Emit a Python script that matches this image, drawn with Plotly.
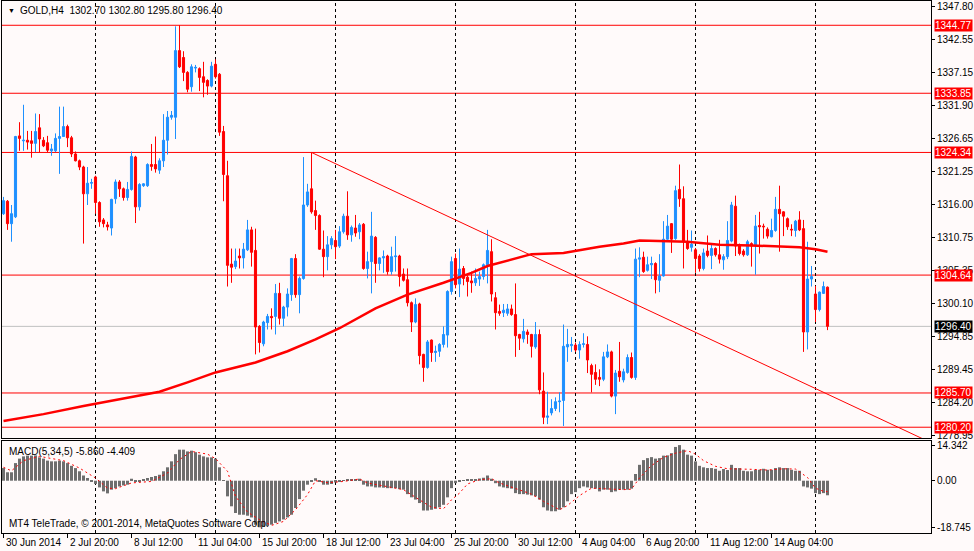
import plotly.graph_objects as go

# GOLD H4, 30 Jun - 15 Aug 2014
opens = [1314.5, 1316.5, 1312.9, 1314.0, 1327.0, 1326.2, 1326.3, 1326.2, 1325.8, 1328.3,
         1326.3, 1325.9, 1324.6, 1324.6, 1326.6, 1326.9, 1328.5, 1326.7, 1324.1, 1323.0,
         1322.0, 1317.7, 1319.4, 1320.4, 1316.3, 1313.5, 1312.7, 1312.2, 1316.9, 1319.6,
         1318.5, 1317.1, 1318.4, 1323.6, 1315.6, 1319.0, 1319.0, 1322.4, 1322.4, 1321.5,
         1323.0, 1326.3, 1330.0, 1330.0, 1340.7, 1339.6, 1337.2, 1334.9, 1337.9, 1337.8,
         1336.5, 1335.9, 1335.0, 1338.5, 1336.9, 1327.7, 1320.6, 1306.4, 1306.0, 1307.7,
         1307.4, 1308.7, 1311.9, 1308.6, 1296.4, 1293.6, 1297.0, 1298.0, 1298.0, 1301.7,
         1297.7, 1299.5, 1301.5, 1307.3, 1301.5, 1304.1, 1315.9, 1318.5, 1315.0, 1314.2,
         1308.8, 1307.6, 1309.5, 1310.2, 1309.3, 1311.6, 1314.1, 1311.1, 1312.2, 1311.6,
         1312.8, 1305.7, 1306.8, 1310.7, 1306.5, 1307.4, 1307.7, 1305.2, 1307.6, 1307.7,
         1304.8, 1303.9, 1300.2, 1297.1, 1300.0, 1291.9, 1289.8, 1294.2, 1292.2, 1292.4,
         1293.5, 1295.0, 1302.0, 1307.3, 1303.2, 1305.7, 1304.3, 1303.7, 1303.4, 1304.0,
         1304.4, 1306.3, 1308.4, 1301.0, 1298.8, 1298.6, 1298.5, 1299.2, 1298.3, 1295.1,
         1294.4, 1295.5, 1295.1, 1293.1, 1295.1, 1286.0, 1281.8, 1282.5, 1283.2, 1284.3,
         1284.5, 1293.1, 1293.3, 1293.4, 1292.6, 1293.5, 1293.5, 1290.1, 1289.0, 1288.2,
         1287.9, 1291.5, 1292.3, 1285.2, 1289.2, 1287.8, 1289.0, 1291.4, 1288.2, 1307.2,
         1307.5, 1305.4, 1306.3, 1306.5, 1303.8, 1304.5, 1310.4, 1312.9, 1310.5, 1318.4,
         1316.9, 1310.0, 1309.1, 1308.7, 1307.7, 1305.7, 1308.5, 1307.8, 1308.9, 1307.9,
         1307.1, 1307.6, 1310.1, 1315.7, 1309.5, 1308.5, 1307.9, 1309.7, 1309.3, 1312.6,
         1312.5, 1312.0, 1310.8, 1311.8, 1315.2, 1314.8, 1313.7, 1312.0, 1311.8, 1313.5,
         1312.1, 1295.5, 1304.0, 1301.6, 1299.1, 1301.7, 1302.7]
highs = [1317.2, 1316.7, 1315.9, 1327.0, 1329.2, 1332.0, 1327.8, 1327.8, 1330.6, 1330.5,
         1326.8, 1327.0, 1325.7, 1327.4, 1331.7, 1331.7, 1328.8, 1327.0, 1324.5, 1323.2,
         1322.2, 1322.0, 1320.1, 1320.6, 1316.5, 1313.8, 1313.2, 1316.9, 1320.0, 1319.9,
         1318.7, 1319.6, 1324.5, 1323.8, 1319.4, 1319.4, 1322.6, 1325.7, 1326.9, 1323.4,
         1330.5, 1331.0, 1331.0, 1344.6, 1344.8, 1340.6, 1337.4, 1338.5, 1338.4, 1338.0,
         1338.9, 1336.1, 1338.9, 1339.3, 1337.1, 1328.6, 1323.0, 1308.9, 1308.9, 1308.9,
         1309.8, 1313.5, 1312.4, 1312.1, 1296.6, 1297.3, 1298.4, 1299.3, 1303.2, 1303.4,
         1299.7, 1302.5, 1307.4, 1308.0, 1304.4, 1323.6, 1319.3, 1324.3, 1316.6, 1314.4,
         1311.8, 1310.9, 1310.9, 1311.9, 1312.5, 1314.5, 1318.1, 1312.6, 1314.3, 1313.0,
         1313.0, 1308.4, 1314.8, 1310.9, 1307.5, 1308.6, 1307.9, 1309.2, 1310.9, 1307.9,
         1305.7, 1305.7, 1300.4, 1300.9, 1300.2, 1292.0, 1294.2, 1294.3, 1293.3, 1293.7,
         1296.4, 1302.2, 1307.6, 1308.1, 1308.9, 1306.1, 1304.6, 1305.2, 1305.7, 1305.2,
         1306.5, 1311.9, 1310.4, 1301.9, 1299.9, 1300.0, 1300.0, 1299.9, 1303.3, 1295.2,
         1297.6, 1295.9, 1295.2, 1297.1, 1295.9, 1289.0, 1285.9, 1284.7, 1285.0, 1285.8,
         1296.7, 1296.0, 1294.7, 1293.8, 1294.0, 1295.3, 1294.8, 1290.4, 1290.3, 1289.5,
         1292.3, 1293.5, 1292.5, 1289.4, 1293.9, 1289.6, 1291.9, 1292.2, 1308.9, 1309.1,
         1308.4, 1307.6, 1307.6, 1306.7, 1308.0, 1313.3, 1314.3, 1313.0, 1319.0, 1322.4,
         1318.9, 1311.9, 1311.8, 1309.0, 1308.0, 1308.9, 1311.0, 1309.5, 1309.1, 1310.3,
         1308.0, 1313.3, 1316.4, 1317.4, 1309.7, 1308.8, 1310.3, 1309.9, 1314.3, 1314.8,
         1312.9, 1312.3, 1313.7, 1317.2, 1319.0, 1314.9, 1313.9, 1312.8, 1313.5, 1314.9,
         1313.5, 1310.0, 1306.1, 1302.9, 1302.0, 1303.6, 1302.8]
lows = [1314.3, 1311.9, 1310.0, 1313.8, 1324.6, 1324.6, 1324.8, 1323.5, 1324.4, 1324.4,
        1325.2, 1324.4, 1323.8, 1324.4, 1320.9, 1326.9, 1325.2, 1323.6, 1322.9, 1321.5,
        1309.7, 1315.9, 1318.5, 1314.5, 1312.4, 1312.3, 1311.8, 1311.0, 1316.1, 1317.2,
        1316.6, 1316.6, 1318.2, 1313.0, 1315.0, 1318.8, 1318.8, 1321.4, 1321.1, 1320.9,
        1322.0, 1324.0, 1329.6, 1326.5, 1337.9, 1335.8, 1334.0, 1334.1, 1337.2, 1334.2,
        1333.2, 1333.6, 1334.8, 1336.2, 1327.0, 1316.5, 1302.8, 1303.4, 1305.6, 1305.7,
        1305.7, 1308.5, 1306.0, 1291.9, 1292.2, 1293.2, 1295.9, 1295.9, 1295.1, 1296.7,
        1296.4, 1298.0, 1300.5, 1301.0, 1298.5, 1303.9, 1315.6, 1314.5, 1311.9, 1308.7,
        1304.3, 1305.4, 1308.8, 1307.2, 1309.0, 1311.3, 1310.3, 1310.0, 1310.8, 1310.4,
        1305.5, 1304.1, 1301.7, 1303.4, 1305.4, 1305.0, 1304.7, 1304.7, 1305.2, 1302.8,
        1303.6, 1299.6, 1295.5, 1296.9, 1290.3, 1287.5, 1289.6, 1290.7, 1290.7, 1291.5,
        1293.0, 1293.0, 1301.5, 1302.5, 1301.1, 1303.0, 1301.2, 1301.8, 1302.9, 1302.9,
        1303.9, 1303.3, 1300.4, 1295.9, 1298.1, 1297.9, 1298.1, 1298.1, 1291.5, 1292.6,
        1293.8, 1293.6, 1291.4, 1292.8, 1285.5, 1280.7, 1280.7, 1282.1, 1282.8, 1282.6,
        1280.4, 1290.7, 1292.3, 1292.3, 1291.2, 1293.0, 1288.9, 1285.8, 1287.0, 1286.8,
        1287.6, 1291.3, 1285.0, 1282.3, 1287.5, 1287.4, 1288.8, 1288.0, 1287.8, 1304.3,
        1305.0, 1305.2, 1304.0, 1301.7, 1301.9, 1304.4, 1310.3, 1308.2, 1310.3, 1315.6,
        1305.7, 1308.7, 1308.4, 1305.0, 1305.2, 1305.4, 1307.5, 1305.6, 1307.6, 1306.5,
        1305.5, 1307.2, 1309.9, 1307.7, 1307.8, 1307.6, 1307.7, 1306.0, 1304.7, 1308.1,
        1310.5, 1310.5, 1310.7, 1311.6, 1308.4, 1310.9, 1311.9, 1310.9, 1310.8, 1311.7,
        1292.3, 1292.7, 1302.8, 1297.1, 1298.8, 1301.6, 1295.8]
closes = [1316.6, 1312.9, 1314.5, 1326.9, 1326.6, 1326.3, 1326.0, 1325.8, 1327.7, 1326.5,
          1325.4, 1324.7, 1324.9, 1326.6, 1326.9, 1328.5, 1326.7, 1324.1, 1323.0, 1322.0,
          1317.7, 1319.4, 1319.5, 1316.3, 1313.2, 1312.9, 1312.4, 1316.8, 1319.6, 1318.5,
          1317.1, 1318.4, 1323.7, 1315.6, 1319.2, 1319.3, 1322.4, 1322.1, 1321.7, 1323.0,
          1326.3, 1330.0, 1330.3, 1340.7, 1338.1, 1337.2, 1334.5, 1338.1, 1338.0, 1336.4,
          1335.6, 1335.0, 1338.2, 1336.5, 1327.6, 1320.8, 1306.2, 1305.9, 1306.9, 1307.4,
          1308.8, 1311.9, 1308.3, 1296.3, 1293.8, 1297.1, 1298.0, 1297.8, 1301.7, 1297.7,
          1299.5, 1301.6, 1307.3, 1301.5, 1304.1, 1315.9, 1318.0, 1314.8, 1314.2, 1308.8,
          1307.6, 1309.5, 1310.5, 1309.2, 1311.6, 1314.1, 1311.1, 1312.3, 1311.4, 1312.7,
          1305.7, 1306.8, 1310.9, 1306.5, 1307.4, 1307.6, 1305.2, 1307.6, 1307.7, 1304.4,
          1303.8, 1300.2, 1297.1, 1299.9, 1291.7, 1289.8, 1293.9, 1292.2, 1292.4, 1293.5,
          1295.1, 1302.0, 1306.8, 1303.1, 1305.6, 1304.1, 1303.6, 1303.4, 1304.1, 1304.4,
          1306.3, 1308.6, 1301.6, 1298.6, 1298.5, 1299.0, 1299.2, 1298.3, 1294.9, 1294.5,
          1295.6, 1295.1, 1293.2, 1295.1, 1286.2, 1281.8, 1282.0, 1283.2, 1284.3, 1284.4,
          1293.2, 1293.5, 1293.5, 1292.6, 1293.5, 1293.6, 1291.0, 1288.7, 1287.9, 1287.9,
          1291.5, 1292.3, 1285.2, 1288.9, 1288.3, 1289.1, 1291.4, 1288.2, 1307.2, 1307.4,
          1305.2, 1306.3, 1306.5, 1303.9, 1304.5, 1310.4, 1312.5, 1310.4, 1318.2, 1316.9,
          1310.0, 1308.9, 1309.6, 1307.3, 1305.7, 1308.2, 1307.8, 1308.9, 1307.9, 1307.2,
          1307.6, 1310.2, 1315.9, 1309.3, 1308.1, 1307.9, 1310.0, 1309.3, 1312.5, 1312.4,
          1312.4, 1310.9, 1311.8, 1315.2, 1314.5, 1314.1, 1312.4, 1311.9, 1313.3, 1311.9,
          1295.5, 1304.0, 1304.4, 1299.1, 1301.9, 1302.8, 1296.4]
bars = list(range(len(closes)))

# moving average (read at a few bars along the red curve)
ma_bars = [0, 10, 20, 30, 39, 46, 53, 63, 71, 78, 84, 93, 101, 110, 117, 121, 132, 140,
           149, 155, 159, 171, 179, 187, 193, 199, 203, 206]
ma_vals = [1281.2, 1282.3, 1283.6, 1284.8, 1285.9, 1287.4, 1289.0, 1290.6, 1292.4, 1294.3,
           1296.1, 1299.3, 1301.5, 1303.4, 1305.0, 1306.1, 1308.0, 1308.2, 1309.2, 1309.7,
           1310.2, 1310.0, 1309.5, 1309.4, 1309.2, 1309.1, 1308.8, 1308.4]

# MACD(5,34,5) histogram, one value per bar
macd_hist = [5.1, 3.4, 3.4, 7.1, 8.9, 9.8, 10.1, 10.1, 10.2, 9.4,
             8.9, 8.1, 7.8, 7.8, 8.1, 7.8, 7.1, 6.0, 5.1, 3.8,
             2.1, 1.1, -0.3, -1.3, -2.7, -4.3, -5.1, -3.6, -3.0, -2.3,
             -1.9, -1.6, 0.8, -0.3, -0.3, 0.4, 1.1, 1.5, 1.9, 2.4,
             3.8, 5.4, 7.8, 10.7, 12.5, 12.5, 11.8, 12.1, 11.5, 10.5,
             9.8, 9.4, 9.4, 8.9, 5.4, 0.1, -6.3, -10.3, -13.0, -13.7,
             -13.7, -14.1, -14.8, -17.7, -18.745, -18.6, -18.3, -17.7, -17.0, -16.4,
             -15.6, -14.8, -13.7, -11.0, -7.4, -4.0, -1.6, -0.3, 1.0, -0.3,
             -1.6, -1.6, -1.3, -0.7, -0.5, 0.1, 0.3, 0.4, 0.5, 0.8,
             -1.6, -2.3, -2.3, -2.7, -2.7, -2.8, -3.0, -3.0, -3.0, -3.4,
             -3.6, -5.4, -6.7, -7.6, -9.0, -12.0, -12.0, -11.7, -11.3, -10.7,
             -9.7, -6.7, -3.0, -1.0, -0.3, -0.1, 0.3, 0.5, 0.7, 0.9,
             1.2, 2.1, 0.8, -1.0, -2.3, -2.7, -3.0, -3.2, -5.0, -5.4,
             -5.4, -5.6, -5.9, -6.3, -7.6, -10.7, -12.0, -12.3, -12.3, -11.7,
             -10.7, -8.3, -5.4, -4.6, -3.0, -2.3, -2.7, -3.0, -3.2, -4.3,
             -3.6, -3.6, -4.6, -4.3, -3.6, -3.6, -3.6, -3.2, 2.7, 6.4,
             8.3, 9.1, 9.5, 8.9, 9.1, 10.1, 10.2, 11.1, 13.6, 14.342,
             12.5, 10.5, 10.1, 7.8, 6.0, 5.4, 5.1, 5.1, 4.8, 4.0,
             4.7, 4.3, 6.4, 5.1, 5.1, 4.0, 3.8, 3.8, 4.4, 4.4,
             4.8, 4.4, 4.4, 5.1, 5.4, 5.1, 5.1, 4.4, 4.0, 4.0,
             -2.3, -2.7, -3.2, -5.0, -5.4, -5.0, -5.86]

# signal line (dashed red), read at a subset of bars
signal_bars = [0, 2, 5, 9, 15, 19, 23, 26, 28, 32, 37, 41, 44, 47, 51, 53, 56, 58, 61, 64,
               67, 70, 73, 76, 78, 81, 85, 89, 91, 97, 100, 104, 107, 110, 112, 114, 116, 119,
               122, 124, 128, 132, 135, 139, 141, 144, 147, 151, 155, 157, 159, 162, 165, 168,
               171, 173, 175, 178, 181, 187, 191, 195, 198, 201, 203, 205, 206]
signal_vals = [5.4, 4.0, 8.1, 9.8, 8.1, 5.1, 1.1, -3.0, -3.2, -0.9, -0.3, 3.1, 8.5, 11.8,
               10.7, 8.9, 3.8, -6.3, -12.6, -15.7, -18.0, -16.4, -11.7, -5.6, 0.0, -0.8,
               -0.3, 0.7, -0.9, -2.6, -3.6, -7.7, -10.7, -11.3, -7.7, -5.0, -1.3, 0.4, 0.8,
               -0.9, -3.0, -5.4, -8.3, -11.7, -10.0, -6.0, -3.0, -3.4, -3.6, -3.4, 1.1, 6.1,
               9.4, 11.1, 12.1, 10.7, 8.1, 5.8, 4.8, 4.6, 4.3, 4.8, 4.7, 1.3, -3.0, -4.3, -4.409]

levels = [1344.77, 1333.85, 1324.34, 1304.64, 1285.70, 1280.20]
last_price = 1296.40
trend_bars = [77, 232]
trend_vals = [1324.34, 1277.68]

time_tick_bars = [0, 16, 32, 48, 64, 80, 96, 112, 128, 144, 160, 176, 192]
time_tick_text = ["30 Jun 2014", "2 Jul 20:00", "8 Jul 12:00", "11 Jul 04:00", "15 Jul 20:00",
                  "18 Jul 12:00", "23 Jul 04:00", "25 Jul 20:00", "30 Jul 12:00",
                  "4 Aug 04:00", "6 Aug 20:00", "11 Aug 12:00", "14 Aug 04:00"]
grid_bars = [23, 53, 83, 113, 143, 173, 203]
price_ticks = [1347.80, 1342.55, 1337.15, 1331.90, 1326.65, 1321.25, 1316.00, 1310.75,
               1305.35, 1300.10, 1294.85, 1289.45, 1284.20, 1278.95]
macd_ticks = [14.342, 0.0, -18.745]
macd_tick_text = ["14.342", "0.00", "-18.745"]

BLUE = "#1e90ff"
RED = "#ff0000"
BG = "#fffafa"
FONT = "Liberation Sans, Arial"

x_range = [-0.375, 231.875]

fig = go.Figure()

fig.add_trace(go.Candlestick(
    x=bars, open=opens, high=highs, low=lows, close=closes,
    increasing=dict(line=dict(color=BLUE, width=1), fillcolor=BLUE),
    decreasing=dict(line=dict(color=RED, width=1), fillcolor=RED),
    whiskerwidth=0, hoverinfo="skip", xaxis="x", yaxis="y"))

fig.add_trace(go.Scatter(x=ma_bars, y=ma_vals, mode="lines",
                         line=dict(color=RED, width=2.5), xaxis="x", yaxis="y"))
fig.add_trace(go.Scatter(x=trend_bars, y=trend_vals, mode="lines",
                         line=dict(color=RED, width=1), xaxis="x", yaxis="y"))

fig.add_trace(go.Bar(x=bars, y=macd_hist, width=0.75, marker=dict(color="#6e6e6e", line=dict(width=0)),
                     xaxis="x2", yaxis="y2"))
fig.add_trace(go.Scatter(x=signal_bars, y=signal_vals, mode="lines",
                         line=dict(color=RED, width=1, dash="2px,3px"), xaxis="x2", yaxis="y2"))

shapes = []
for lv in levels:
    shapes.append(dict(type="line", xref="x domain", yref="y", x0=0, x1=1, y0=lv, y1=lv,
                       line=dict(color=RED, width=1), layer="below"))
shapes.append(dict(type="line", xref="x domain", yref="y", x0=0, x1=1, y0=last_price, y1=last_price,
                   line=dict(color="#c0c0c0", width=1), layer="below"))
for g in grid_bars:
    shapes.append(dict(type="line", xref="x", yref="y domain", x0=g, x1=g, y0=0, y1=1,
                       line=dict(color="black", width=1, dash="3px,3px"), layer="below"))
    shapes.append(dict(type="line", xref="x2", yref="y2 domain", x0=g, x1=g, y0=0, y1=1,
                       line=dict(color="black", width=1, dash="3px,3px"), layer="below"))

annotations = []
for lv in levels:
    annotations.append(dict(x=1, xref="paper", xanchor="left", xshift=3, y=lv, yref="y",
                            text=f"{lv:.2f}", showarrow=False, bgcolor=RED, borderpad=0,
                            font=dict(family=FONT, size=10, color="white")))
annotations.append(dict(x=1, xref="paper", xanchor="left", xshift=3, y=last_price, yref="y",
                        text=f"{last_price:.2f}", showarrow=False, bgcolor="black", borderpad=0,
                        font=dict(family=FONT, size=10, color="white")))
for b, t in zip(time_tick_bars, time_tick_text):
    annotations.append(dict(x=b, xref="x2", xanchor="left", xshift=0, y=0, yref="paper",
                            yanchor="top", yshift=-2, text=t, showarrow=False,
                            font=dict(family=FONT, size=10, color="black")))
annotations.append(dict(x=0, xref="paper", xanchor="left", xshift=4, y=1, yref="paper", yanchor="top",
                        yshift=-4, text="▼", showarrow=False, font=dict(family=FONT, size=7, color="black")))
annotations.append(dict(x=0, xref="paper", xanchor="left", xshift=16, y=1, yref="paper", yanchor="top",
                        yshift=-2, text="GOLD,H4  1302.70 1302.80 1295.80 1296.40", showarrow=False,
                        font=dict(family=FONT, size=10, color="black")))
annotations.append(dict(x=0, xref="paper", xanchor="left", xshift=5, y=0.1729, yref="paper", yanchor="top",
                        yshift=-3, text="MACD(5,34,5) -5.860 -4.409", showarrow=False,
                        font=dict(family=FONT, size=10, color="black")))
annotations.append(dict(x=0, xref="paper", xanchor="left", xshift=5, y=0, yref="paper", yanchor="bottom",
                        yshift=2, text="MT4 TeleTrade, © 2001-2014, MetaQuotes Software Corp.", showarrow=False,
                        font=dict(family=FONT, size=10, color="black")))

axis_common = dict(showgrid=False, zeroline=False, showline=True, mirror=True,
                   linecolor="black", linewidth=1)

fig.update_layout(
    width=974, height=551,
    margin=dict(l=2, r=43, t=1, b=18),
    paper_bgcolor=BG, plot_bgcolor=BG,
    showlegend=False, hovermode=False,
    font=dict(family=FONT, size=10, color="black"),
    boxgap=0.25,
    xaxis=dict(domain=[0, 1], range=x_range, anchor="y", showticklabels=False, ticks="",
               rangeslider=dict(visible=False), **axis_common),
    yaxis=dict(domain=[0.1786, 1], range=[1278.47, 1348.67], side="right", anchor="x",
               tickvals=price_ticks, tickformat=".2f", ticks="outside", ticklen=3,
               tickcolor="black", **axis_common),
    xaxis2=dict(domain=[0, 1], range=x_range, anchor="y2", tickvals=time_tick_bars,
                showticklabels=False, ticks="outside", ticklen=4, tickcolor="black", **axis_common),
    yaxis2=dict(domain=[0, 0.1729], range=[-21.06, 15.99], side="right", anchor="x2",
                tickvals=macd_ticks, ticktext=macd_tick_text, ticks="outside", ticklen=3,
                tickcolor="black", **axis_common),
    shapes=shapes,
    annotations=annotations,
)

# drop the default page margin so the chart sits at the window's top-left corner
fig.write_html("out.html", config={"displayModeBar": False},
               post_script="document.body.style.margin='0';")
